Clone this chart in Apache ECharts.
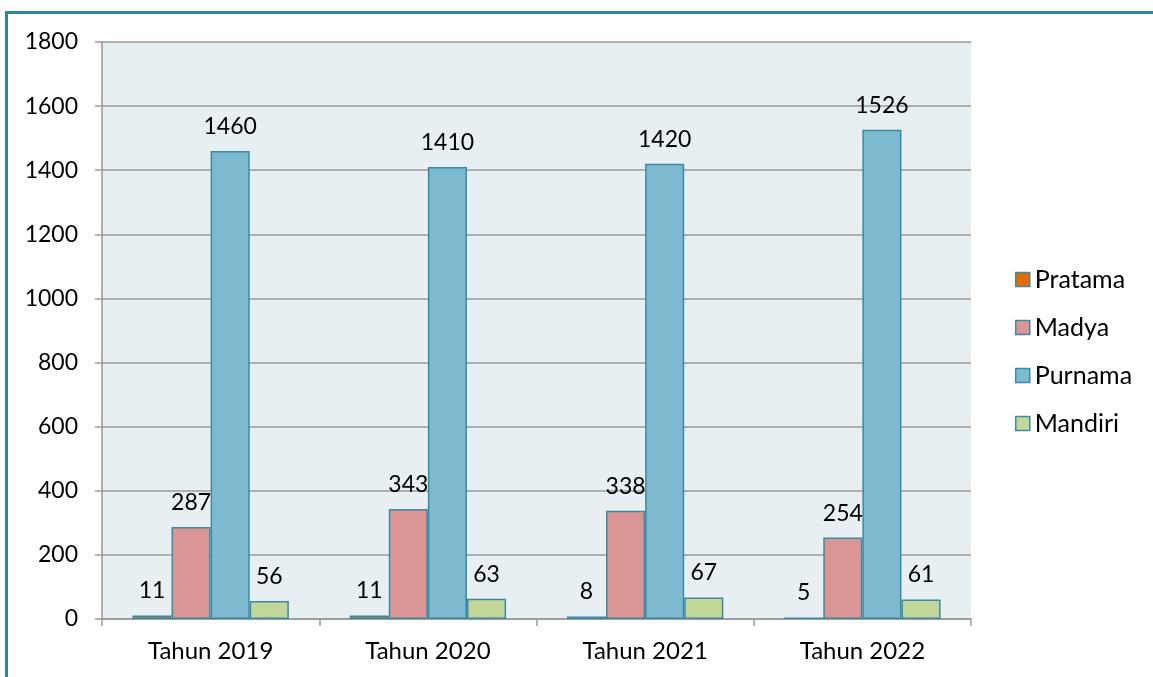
<!DOCTYPE html>
<html>
<head>
<meta charset="utf-8">
<script src="https://cdn.jsdelivr.net/npm/echarts@6/dist/echarts.min.js"></script>
<style>
html,body{margin:0;padding:0;background:#fff;}
#frame{position:absolute;left:5px;top:11px;width:1160px;height:700px;border-top:3px solid #31849B;border-left:3px solid #31849B;box-sizing:border-box;}
#chart{position:absolute;left:0;top:0;width:1153px;height:677px;}
</style>
</head>
<body>
<div id="frame"></div>
<div id="chart"></div>
<script>
const categories = ['Tahun 2019', 'Tahun 2020', 'Tahun 2021', 'Tahun 2022'];
const seriesNames = ['Pratama', 'Madya', 'Purnama', 'Mandiri'];
const pratama = [11, 11, 8, 5];
const madya = [287, 343, 338, 254];
const purnama = [1460, 1410, 1420, 1526];
const mandiri = [56, 63, 67, 61];
const yTicks = { min: 0, max: 1800, interval: 200 };
const colors = ['#E36C09', '#D99694', '#7DBAD0', '#C4D79B'];

const dataSets = [pratama, madya, purnama, mandiri];
const fontFam = 'Lato, "Open Sans", sans-serif';
const chart = echarts.init(document.getElementById('chart'), null, {renderer: 'canvas'});
chart.setOption({
  animation: false,
  grid: { left: 102, right: 182, top: 42, bottom: 58, show: true, backgroundColor: '#E8EFF3', borderWidth: 0 },
  legend: {
    orient: 'vertical', left: 1010, top: 262,
    itemWidth: 14, itemHeight: 14, itemGap: 23,
    icon: 'rect',
    itemStyle: { borderColor: '#3A8AA3', borderWidth: 1.5 },
    textStyle: { fontSize: 25, color: '#000', fontFamily: fontFam },
    data: seriesNames
  },
  xAxis: {
    type: 'category', data: categories,
    axisLine: { lineStyle: { color: '#999', width: 1.5 } },
    axisTick: { show: true, length: 7, lineStyle: { color: '#999', width: 1.5 } },
    axisLabel: { fontSize: 24, color: '#000', fontFamily: fontFam, margin: 20 }
  },
  yAxis: {
    type: 'value', min: yTicks.min, max: yTicks.max, interval: yTicks.interval,
    axisLine: { show: true, lineStyle: { color: '#999', width: 1.5 } },
    axisTick: { show: true, length: 7, lineStyle: { color: '#999', width: 1.5 } },
    splitLine: { lineStyle: { color: '#9A9A9A', width: 1.5 } },
    axisLabel: { fontSize: 23, color: '#000', fontFamily: fontFam, margin: 24, formatter: v => String(v) }
  },
  series: seriesNames.map((name, i) => ({
    name: name, type: 'bar', data: dataSets[i],
    barGap: '0%', barCategoryGap: '28%',
    itemStyle: { color: colors[i], borderColor: '#3A8AA3', borderWidth: 1.5 },
    label: { show: true, position: 'top', distance: 13, fontSize: 23, color: '#000', fontFamily: fontFam }
  }))
});
</script>
</body>
</html>
